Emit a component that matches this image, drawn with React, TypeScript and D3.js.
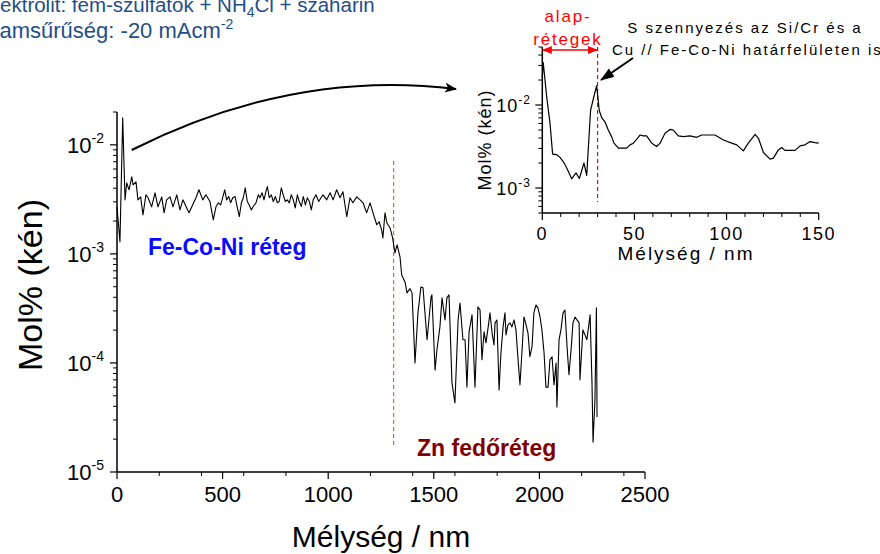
import React from 'react';
import * as d3 from 'd3';

// ---- Main profile (depth in nm, sulfur content in mol%) ----
const mainDepth = [0,14,27,38,46,57,70,76,90,99,112,123,137,147,164,180,194,212,223,235,251,265,283,298,312,330,341,358,374,388,406,421,440,456,469,480,491,500,510,519,529,538,548,559,570,579,589,598,607,617,626,636,645,658,669,677,687,696,705,712,721,731,740,750,759,768,778,787,797,806,816,825,835,844,854,863,873,882,892,901,911,920,929,942,955,975,993,1009,1023,1040,1056,1070,1088,1103,1117,1135,1151,1165,1182,1198,1212,1230,1241,1253,1259,1269,1278,1293,1305,1316,1326,1340,1348,1364,1373,1387,1397,1411,1425,1439,1449,1468,1487,1491,1506,1515,1529,1539,1553,1562,1572,1586,1600,1615,1624,1638,1648,1657,1667,1681,1695,1709,1719,1728,1738,1747,1757,1766,1776,1785,1790,1799,1809,1818,1828,1837,1842,1851,1861,1870,1880,1889,1899,1908,1918,1927,1937,1946,1955,1965,1974,1984,1993,2003,2012,2022,2031,2041,2050,2060,2069,2079,2083,2093,2102,2112,2121,2131,2140,2150,2159,2169,2178,2188,2192,2206,2225,2240,2249,2254,2263,2270,2273];
const mainMol = [2.7e-3,1.29e-3,1.77e-2,3.13e-3,4.48e-3,3.87e-3,5.09e-3,4.30e-3,4.58e-3,3.13e-3,3.33e-3,2.28e-3,3.48e-3,3.27e-3,2.70e-3,3.63e-3,2.70e-3,3.33e-3,2.38e-3,3.13e-3,3.33e-3,2.70e-3,3.48e-3,2.53e-3,3.13e-3,2.64e-3,2.38e-3,2.81e-3,3.27e-3,3.87e-3,3.13e-3,3.48e-3,3.02e-3,2.05e-3,2.72e-3,2.94e-3,2.81e-3,3.27e-3,3.87e-3,3.13e-3,3.36e-3,2.94e-3,3.27e-3,3.36e-3,2.64e-3,2.20e-3,2.94e-3,3.27e-3,4.03e-3,3.02e-3,2.81e-3,2.53e-3,2.72e-3,2.94e-3,3.48e-3,3.27e-3,3.63e-3,3.13e-3,3.73e-3,4.14e-3,3.27e-3,3.48e-3,3.02e-3,3.36e-3,2.94e-3,3.02e-3,4.03e-3,3.48e-3,3.02e-3,3.13e-3,2.94e-3,3.48e-3,3.13e-3,2.64e-3,3.48e-3,3.02e-3,2.72e-3,3.36e-3,2.81e-3,3.27e-3,3.02e-3,2.53e-3,3.13e-3,3.48e-3,3.02e-3,3.48e-3,3.13e-3,3.63e-3,3.13e-3,3.87e-3,3.27e-3,3.71e-3,2.19e-3,3.27e-3,2.94e-3,3.33e-3,3.13e-3,2.94e-3,2.38e-3,2.94e-3,2.38e-3,1.85e-3,1.97e-3,1.66e-3,1.40e-3,2.38e-3,1.92e-3,1.73e-3,1.40e-3,1.02e-3,1.21e-3,9.4e-4,6.4e-4,5.5e-4,4.39e-4,4.8e-4,4.39e-4,1.00e-4,2.88e-4,4.98e-4,4.88e-4,1.63e-4,4.03e-4,4.21e-4,8.6e-5,1.32e-4,2.14e-4,3.95e-4,2.48e-4,3.95e-4,4.21e-4,6.6e-5,4.30e-5,2.48e-4,3.55e-4,1.63e-4,1.63e-4,6.0e-5,1.93e-4,2.76e-4,6.0e-5,3.27e-4,3.06e-4,1.07e-4,1.93e-4,1.53e-4,2.10e-4,2.88e-4,1.88e-4,1.46e-4,2.33e-4,2.48e-4,5.65e-5,1.24e-4,2.14e-4,2.88e-4,1.81e-4,2.23e-4,2.33e-4,2.14e-4,2.48e-4,2.01e-4,1.07e-4,6.3e-5,1.32e-4,2.64e-4,2.23e-4,1.88e-4,1.14e-4,1.40e-4,2.88e-4,3.40e-4,3.20e-4,2.64e-4,2.01e-4,1.24e-4,6.0e-5,6.0e-5,1.07e-4,1.14e-4,6.3e-5,1.00e-4,3.95e-5,1.63e-4,2.01e-4,2.88e-4,3.06e-4,1.40e-4,7.8e-5,1.32e-4,2.33e-4,2.64e-4,2.48e-4,2.33e-4,7.0e-5,2.01e-4,1.63e-4,2.76e-4,6.6e-5,1.88e-5,4.58e-5,3.20e-4,3.2e-5];

// ---- Inset profile (first 150 nm) ----
const insetDepth = [0,0.5,2.4,4.2,5.6,7.8,9.6,11.9,14.1,15.9,18.3,20.1,22.6,24.1,26.2,27.7,29.5,30.9,32.2,34.0,35.8,37.6,38.9,41.3,45.8,47.6,49.4,51.2,53.0,54.8,56.6,59.4,62.1,63.9,66.6,69.3,71.1,73.8,76.5,80.2,83.8,86.5,91.0,93.7,98.3,102.8,105.5,109.1,111.8,115.5,117.3,120.0,123.6,125.4,128.1,129.9,131.7,137.2,139.9,142.6,145.3,148.0,150];
const insetMol = [0.0216,0.0325,0.01245,6.0e-3,2.56e-3,2.52e-3,2.34e-3,2.0e-3,1.59e-3,1.29e-3,1.52e-3,1.30e-3,2.0e-3,1.42e-3,8.6e-3,0.0119,0.0171,8.6e-3,7.06e-3,6.28e-3,4.99e-3,4.16e-3,3.47e-3,3.02e-3,3.02e-3,3.31e-3,3.47e-3,3.86e-3,4.35e-3,4.24e-3,4.24e-3,3.47e-3,3.16e-3,3.47e-3,4.56e-3,5.08e-3,4.99e-3,4.24e-3,4.16e-3,4.24e-3,4.08e-3,4.35e-3,4.35e-3,4.35e-3,3.79e-3,3.47e-3,3.31e-3,2.80e-3,3.47e-3,4.43e-3,3.97e-3,2.68e-3,2.23e-3,2.29e-3,2.88e-3,3.07e-3,2.84e-3,2.84e-3,3.22e-3,3.31e-3,3.63e-3,3.53e-3,3.47e-3];

// ---- Axis tick labels ----
const mainXTicks = [0, 500, 1000, 1500, 2000, 2500];
const mainYExps = [-5, -4, -3, -2];
const insetXTicks = [0, 50, 100, 150];
const insetYExps = [-3, -2];

const boundaryMain = 1310;
const boundaryInset = 30;

const FONT = 'Arial, "Liberation Sans", Helvetica, sans-serif';

export default function App() {
  const x = d3.scaleLinear().domain([0, 2500]).range([117, 645]);
  const y = d3.scaleLog().domain([1e-5, 2e-2]).range([472, 112]);
  const ix = d3.scaleLinear().domain([0, 150]).range([542.3, 818.7]);
  const iy = d3.scaleLog().domain([5e-4, 5e-2]).range([213, 47]);

  const mainData: [number, number][] = mainDepth.map((d, i) => [d, mainMol[i]]);
  const insetData: [number, number][] = insetDepth.map((d, i) => [d, insetMol[i]]);
  const mainLine = d3.line<[number, number]>().x(d => x(d[0])).y(d => y(d[1]));
  const insetLine = d3.line<[number, number]>().x(d => ix(d[0])).y(d => iy(d[1]));

  const isDecade = (v: number) => Math.abs(Math.log10(v) - Math.round(Math.log10(v))) < 1e-6;
  const yMinor = y.ticks().filter(v => !isDecade(v) && v <= 2e-2 + 1e-9);
  const iyMinor = iy.ticks().filter(v => !isDecade(v));
  const xMinor = x.ticks(10).filter(v => v % 500 !== 0);
  const ixMinor = ix.ticks(15).filter(v => v % 50 !== 0);

  const y0 = 472, x0 = 117;
  const iy0 = 213, ix0 = 542.3;

  return (
    <svg width={880} height={554} style={{ position: 'absolute', left: 0, top: 0, background: '#fff' }} fontFamily={FONT}>
      <defs>
        <marker id="blkHead" viewBox="0 0 12 10" refX="11" refY="5" markerWidth="12" markerHeight="10" markerUnits="userSpaceOnUse" orient="auto">
          <path d="M0,0 L12,5 L0,10 L3,5 z" fill="#000" />
        </marker>
        <marker id="blkHead2" viewBox="0 0 14 10" refX="13" refY="5" markerWidth="14" markerHeight="10" markerUnits="userSpaceOnUse" orient="auto">
          <path d="M0,0 L14,5 L0,10 z" fill="#000" />
        </marker>
        <marker id="redEnd" viewBox="0 0 10 8" refX="9.5" refY="4" markerWidth="10" markerHeight="8" markerUnits="userSpaceOnUse" orient="auto-start-reverse">
          <path d="M0,0 L10,4 L0,8 z" fill="#ff0000" />
        </marker>
      </defs>

      {/* Top-left electrolyte description (clipped by the page edge, as in the source) */}
      <g fill="#1f4e89">
        <text x={-18.2} y={12} fontSize={20.5}>Elektrolit: fém-szulfátok + NH<tspan dy={5} fontSize={14}>4</tspan><tspan dy={-5}>Cl + szaharin</tspan></text>
        <text x={-22.5} y={38} fontSize={22}>Áramsűrűség: -20 mAcm<tspan dy={-9} fontSize={14}>-2</tspan></text>
      </g>

      {/* ===== Main chart ===== */}
      <g>
        <line x1={x0} x2={x0} y1={y(2e-2)} y2={y0} stroke="#000" strokeWidth={1.5} />
        <line x1={x0} x2={x(2500)} y1={y0} y2={y0} stroke="#000" strokeWidth={1.5} />
        {mainYExps.map(e => (
          <line key={'ymj' + e} x1={x0 - 7} x2={x0} y1={y(Math.pow(10, e))} y2={y(Math.pow(10, e))} stroke="#000" strokeWidth={1.2} />
        ))}
        {yMinor.map((v, i) => (
          <line key={'ymn' + i} x1={x0 - 4} x2={x0} y1={y(v)} y2={y(v)} stroke="#000" strokeWidth={1} />
        ))}
        {mainXTicks.map(t => (
          <line key={'xmj' + t} x1={x(t)} x2={x(t)} y1={y0} y2={y0 + 7} stroke="#000" strokeWidth={1.2} />
        ))}
        {xMinor.map(t => (
          <line key={'xmn' + t} x1={x(t)} x2={x(t)} y1={y0} y2={y0 + 4} stroke="#000" strokeWidth={1} />
        ))}
        {mainYExps.map(e => (
          <text key={'yl' + e} x={104} y={y(Math.pow(10, e)) + 8} textAnchor="end" fontSize={22}>
            10<tspan dy={-10} fontSize={14}>{e}</tspan>
          </text>
        ))}
        {mainXTicks.map(t => (
          <text key={'xl' + t} x={x(t)} y={502} textAnchor="middle" fontSize={22}>{t}</text>
        ))}
        <text x={381} y={547} textAnchor="middle" fontSize={30}>Mélység / nm</text>
        <text transform="translate(42,285) rotate(-90)" textAnchor="middle" fontSize={34}>Mol% (kén)</text>

        <line x1={x(boundaryMain)} x2={x(boundaryMain)} y1={161} y2={445} stroke="#ff3333" strokeWidth={1} strokeDasharray="4,3" />

        <path d={mainLine(mainData) || ''} fill="none" stroke="#000" strokeWidth={1.1} strokeLinejoin="round" />

        <text x={148} y={255} fontSize={23} fontWeight="bold" fill="#0a0aff">Fe-Co-Ni réteg</text>
        <text x={417} y={456} fontSize={23} fontWeight="bold" fill="#800000">Zn fedőréteg</text>

        <path d="M131.7,150 Q294,68.5 456,89" fill="none" stroke="#000" strokeWidth={2} markerEnd="url(#blkHead)" />
      </g>

      {/* ===== Inset ===== */}
      <g>
        <line x1={ix0} x2={ix0} y1={47} y2={iy0} stroke="#000" strokeWidth={1.5} />
        <line x1={ix0} x2={ix(150)} y1={iy0} y2={iy0} stroke="#000" strokeWidth={1.5} />
        {insetYExps.map(e => (
          <line key={'iymj' + e} x1={ix0 - 7} x2={ix0} y1={iy(Math.pow(10, e))} y2={iy(Math.pow(10, e))} stroke="#000" strokeWidth={1.2} />
        ))}
        {iyMinor.map((v, i) => (
          <line key={'iymn' + i} x1={ix0 - 4} x2={ix0} y1={iy(v)} y2={iy(v)} stroke="#000" strokeWidth={1} />
        ))}
        {insetXTicks.map(t => (
          <line key={'ixmj' + t} x1={ix(t)} x2={ix(t)} y1={iy0} y2={iy0 + 7} stroke="#000" strokeWidth={1.2} />
        ))}
        {ixMinor.map(t => (
          <line key={'ixmn' + t} x1={ix(t)} x2={ix(t)} y1={iy0} y2={iy0 + 4} stroke="#000" strokeWidth={1} />
        ))}
        {insetYExps.map(e => (
          <text key={'iyl' + e} x={531} y={iy(Math.pow(10, e)) + 7} textAnchor="end" fontSize={18} letterSpacing={1}>
            10<tspan dy={-8} fontSize={12}>{e}</tspan>
          </text>
        ))}
        {insetXTicks.map(t => (
          <text key={'ixl' + t} x={ix(t)} y={240} textAnchor="middle" fontSize={18} letterSpacing={1.5}>{t}</text>
        ))}
        <text x={686} y={260} textAnchor="middle" fontSize={19} letterSpacing={2}>Mélység / nm</text>
        <text transform="translate(491,140) rotate(-90)" textAnchor="middle" fontSize={18} letterSpacing={1}>Mol% (kén)</text>

        <line x1={ix(boundaryInset)} x2={ix(boundaryInset)} y1={47} y2={202} stroke="#ff0000" strokeWidth={1.2} strokeDasharray="4,3" />
        <path d={insetLine(insetData) || ''} fill="none" stroke="#000" strokeWidth={1.2} strokeLinejoin="round" />

        <line x1={ix(0)} x2={ix(boundaryInset)} y1={50} y2={50} stroke="#ff0000" strokeWidth={1.5} markerStart="url(#redEnd)" markerEnd="url(#redEnd)" />
        <text x={568} y={22} textAnchor="middle" fontSize={17} letterSpacing={1.8} fill="#ff0000">alap-</text>
        <text x={568} y={45} textAnchor="middle" fontSize={17} letterSpacing={1.8} fill="#ff0000">rétegek</text>

        <text x={745} y={33} textAnchor="middle" fontSize={15} letterSpacing={2}>S szennyezés az Si/Cr és a</text>
        <text x={612} y={55} fontSize={15} letterSpacing={2}>Cu // Fe-Co-Ni határfelületen is</text>
        <line x1={633} y1={58} x2={601} y2={80} stroke="#000" strokeWidth={2} markerEnd="url(#blkHead2)" />
      </g>
    </svg>
  );
}
